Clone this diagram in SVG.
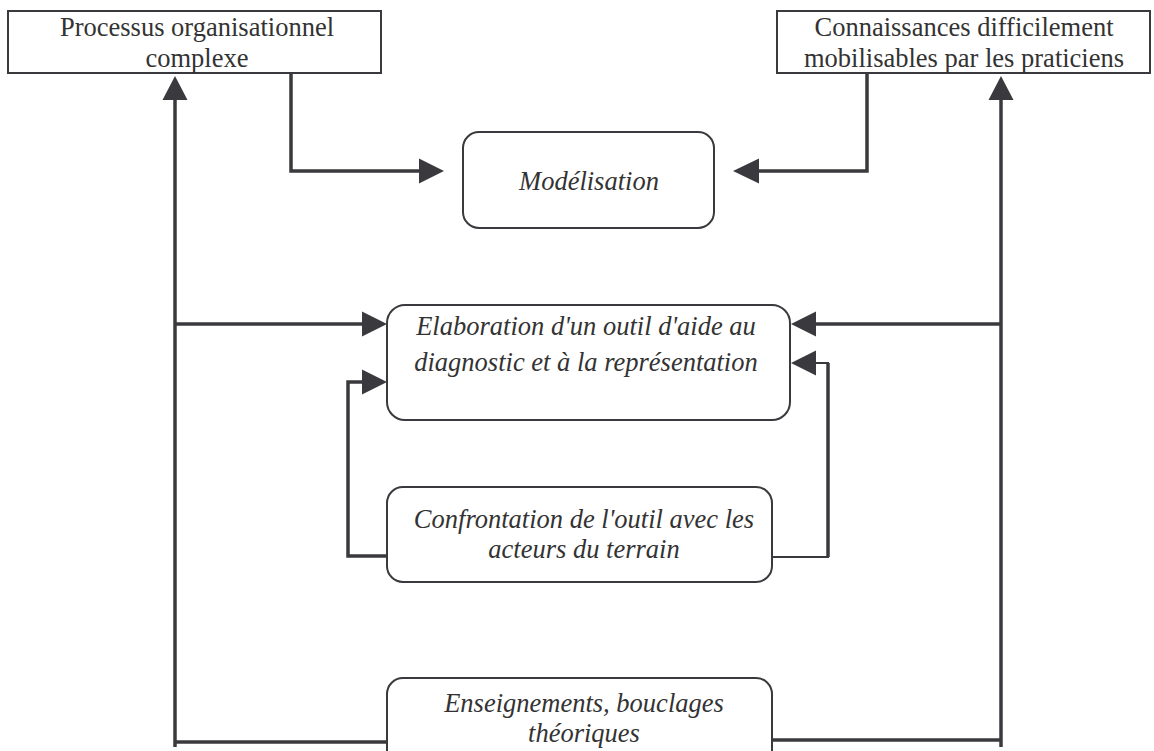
<svg xmlns="http://www.w3.org/2000/svg" width="1154" height="751" viewBox="0 0 1154 751">
<defs>
<style>
.box{fill:#fff;stroke:#3a3a3e;stroke-width:2}
.t{font-family:"Liberation Serif","Times New Roman",serif;font-size:26.5px;fill:#333;text-anchor:middle}
.i{font-style:italic}
.c{fill:none;stroke:#3a3a3e;stroke-width:3.5}
.cn{fill:none;stroke:#3a3a3e;stroke-width:2}
.ah{fill:#3a3a3e}
</style>
</defs>
<rect width="1154" height="751" fill="#fff"/>
<g id="connectors">
<polyline class="c" points="291,73 291,171 420,171"/>
<polygon class="ah" points="444,171 419,158.5 419,183.5"/>
<polyline class="c" points="867,73 867,171 758,171"/>
<polygon class="ah" points="733,171 759,158.5 759,183.5"/>
<line class="c" x1="175" y1="98" x2="175" y2="747"/>
<polygon class="ah" points="175,76 162.5,100 187.5,100"/>
<line class="c" x1="1001" y1="98" x2="1001" y2="747"/>
<polygon class="ah" points="1001,76 988.5,100 1013.5,100"/>
<line class="c" x1="175" y1="324" x2="364" y2="324"/>
<polygon class="ah" points="387,324 362,311.5 362,336.5"/>
<line class="c" x1="1001" y1="324" x2="814" y2="324"/>
<polygon class="ah" points="791,324 816,311.5 816,336.5"/>
<polyline class="c" points="387,556 348,556 348,382 364,382"/>
<polygon class="ah" points="387,382 362,369.5 362,394.5"/>
<polyline class="cn" points="772,557 828,557 828,363 814,363"/>
<line class="c" x1="828" y1="557" x2="828" y2="363"/>
<polygon class="ah" points="791,363 816,350.5 816,375.5"/>
<line class="c" x1="175" y1="742" x2="387" y2="742"/>
<line class="c" x1="772" y1="740" x2="1001" y2="740"/>
</g>
<g id="processus">
<rect class="box" x="8" y="11" width="373" height="62"/>
<text class="t" x="197" y="36">Processus organisationnel</text>
<text class="t" x="197" y="67">complexe</text>
</g>
<g id="connaissances">
<rect class="box" x="777" y="11" width="373" height="62"/>
<text class="t" x="964" y="36">Connaissances difficilement</text>
<text class="t" x="964" y="67">mobilisables par les praticiens</text>
</g>
<g id="modelisation">
<rect class="box" x="463" y="132" width="251" height="96" rx="16"/>
<text class="t i" x="589" y="190">Modélisation</text>
</g>
<g id="elaboration">
<rect class="box" x="387" y="305" width="403" height="115" rx="18"/>
<text class="t i" x="586" y="335">Elaboration d'un outil d'aide au</text>
<text class="t i" x="586" y="371">diagnostic et à la représentation</text>
</g>
<g id="confrontation">
<rect class="box" x="387" y="487" width="385" height="95" rx="16"/>
<text class="t i" x="584" y="528">Confrontation de l'outil avec les</text>
<text class="t i" x="584" y="558">acteurs du terrain</text>
</g>
<g id="enseignements">
<rect class="box" x="387" y="678" width="385" height="95" rx="16"/>
<text class="t i" x="584" y="712">Enseignements, bouclages</text>
<text class="t i" x="584" y="742">théoriques</text>
</g>
</svg>
